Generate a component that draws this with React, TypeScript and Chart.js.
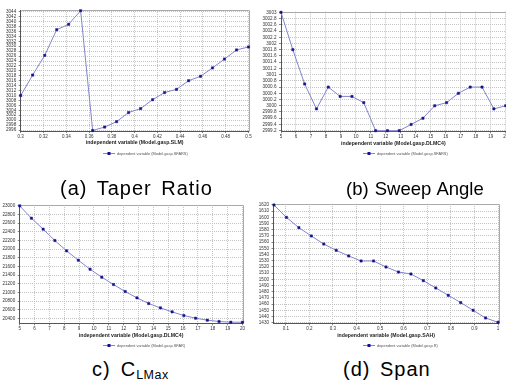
import React, { useEffect, useRef } from 'react';
import { Chart, registerables } from 'chart.js';
Chart.register(...registerables);

const FONT = '"Liberation Sans", Arial, sans-serif';

// (a) Taper ratio
const taperX = [0.3, 0.3105, 0.3211, 0.3316, 0.3421, 0.3526, 0.3632, 0.3737, 0.3842, 0.3947, 0.4053, 0.4158, 0.4263, 0.4368, 0.4474, 0.4579, 0.4684, 0.4789, 0.4895, 0.5];
const taperY = [3010, 3018.3, 3026.3, 3036.7, 3038.9, 3044.4, 2995.8, 2997.2, 2999.4, 3003.1, 3004.7, 3008.3, 3011.2, 3012.5, 3016, 3017.8, 3021.2, 3024.8, 3028.5, 3029.7];
const taperXTicks = [0.3, 0.32, 0.34, 0.36, 0.38, 0.4, 0.42, 0.44, 0.46, 0.48, 0.5];
const taperYTicks = [2996, 2998, 3000, 3002, 3004, 3006, 3008, 3010, 3012, 3014, 3016, 3018, 3020, 3022, 3024, 3026, 3028, 3030, 3032, 3034, 3036, 3038, 3040, 3042, 3044];

// (b) Sweep angle
const sweepX = [5, 5.789, 6.579, 7.368, 8.158, 8.947, 9.737, 10.526, 11.316, 12.105, 12.895, 13.684, 14.474, 15.263, 16.053, 16.842, 17.632, 18.421, 19.211, 20];
const sweepY = [3003, 3001.8, 3000.7, 2999.9, 3000.6, 3000.3, 3000.3, 3000.1, 2999.2, 2999.2, 2999.2, 2999.4, 2999.6, 3000.0, 3000.1, 3000.4, 3000.6, 3000.6, 2999.9, 3000.0];
const sweepXTicks = [5, 6, 7, 8, 9, 10, 11, 12, 13, 14, 15, 16, 17, 18, 19, 20];
const sweepYTicks = [2999.2, 2999.4, 2999.6, 2999.8, 3000, 3000.2, 3000.4, 3000.6, 3000.8, 3001, 3001.2, 3001.4, 3001.6, 3001.8, 3002, 3002.2, 3002.4, 3002.6, 3002.8, 3003];

// (c) CLMax
const clmaxX = [5, 5.789, 6.579, 7.368, 8.158, 8.947, 9.737, 10.526, 11.316, 12.105, 12.895, 13.684, 14.474, 15.263, 16.053, 16.842, 17.632, 18.421, 19.211, 20];
const clmaxY = [23000, 22715, 22462, 22200, 21962, 21746, 21538, 21354, 21185, 21023, 20877, 20746, 20646, 20554, 20469, 20408, 20362, 20331, 20315, 20315];
const clmaxXTicks = [5, 6, 7, 8, 9, 10, 11, 12, 13, 14, 15, 16, 17, 18, 19, 20];
const clmaxYTicks = [20400, 20600, 20800, 21000, 21200, 21400, 21600, 21800, 22000, 22200, 22400, 22600, 22800, 23000];

// (d) Span
const spanX = [0.05, 0.1028, 0.1556, 0.2083, 0.2611, 0.3139, 0.3667, 0.4194, 0.4722, 0.525, 0.5778, 0.6306, 0.6833, 0.7361, 0.7889, 0.8417, 0.8944, 0.9472, 1.0];
const spanY = [1620, 1600, 1583.4, 1570, 1557, 1546.8, 1537.7, 1529.6, 1529.6, 1519.9, 1511.8, 1508.6, 1497.9, 1486, 1474.2, 1462.4, 1450, 1437.6, 1430.6];
const spanXTicks = [0.1, 0.2, 0.3, 0.4, 0.5, 0.6, 0.7, 0.8, 0.9, 1];
const spanYTicks = [1430, 1440, 1450, 1460, 1470, 1480, 1490, 1500, 1510, 1520, 1530, 1540, 1550, 1560, 1570, 1580, 1590, 1600, 1610, 1620];

const LINE_COLOR = '#8585cc';
const POINT_COLOR = '#12128e';

const fmt = (v: number) => String(Number(Number(v).toFixed(2)));

const framePlugin = {
  id: 'frame',
  beforeDatasetsDraw(chart: any) {
    const { ctx, chartArea } = chart;
    ctx.save();
    ctx.strokeStyle = '#a9a9a9';
    ctx.lineWidth = 1;
    ctx.beginPath();
    ctx.moveTo(Math.round(chartArea.left) + 0.5, Math.round(chartArea.top) + 0.5);
    ctx.lineTo(Math.round(chartArea.right) + 0.5, Math.round(chartArea.top) + 0.5);
    ctx.lineTo(Math.round(chartArea.right) + 0.5, Math.round(chartArea.bottom) + 0.5);
    ctx.stroke();
    ctx.restore();
  },
};

const miniLegendPlugin = {
  id: 'miniLegend',
  afterDraw(chart: any, _args: any, opts: any) {
    const ds = chart.data.datasets[0];
    const { ctx } = chart;
    const x = opts.x;
    const y = opts.y;
    ctx.save();
    ctx.strokeStyle = ds.borderColor;
    ctx.lineWidth = 1;
    ctx.beginPath();
    ctx.moveTo(x, y + 0.5);
    ctx.lineTo(x + 12, y + 0.5);
    ctx.stroke();
    ctx.fillStyle = ds.pointBackgroundColor;
    ctx.fillRect(x + 4.5, y - 1, 3, 3);
    ctx.fillStyle = '#555';
    ctx.font = `3.9px ${FONT}`;
    ctx.textBaseline = 'middle';
    ctx.textAlign = 'left';
    ctx.fillText(ds.label, x + 14, y + 0.5);
    ctx.restore();
  },
};

type Spec = {
  left: number; top: number; w: number; h: number;
  pad: { left: number; top: number; right: number; bottom: number };
  yW: number;
  xs: number[]; ys: number[];
  xTicks: number[]; yTicks: number[];
  xMin: number; xMax: number; yMin: number; yMax: number;
  xTitle: string; label: string;
  legend: { x: number; y: number };
};

function Panel({ spec }: { spec: Spec }) {
  const ref = useRef<HTMLCanvasElement>(null);
  useEffect(() => {
    const c = ref.current;
    if (!c) return;
    const chart = new Chart(c, {
      type: 'line',
      data: {
        datasets: [
          {
            label: spec.label,
            data: spec.xs.map((x, i) => ({ x, y: spec.ys[i] })),
            borderColor: LINE_COLOR,
            borderWidth: 1,
            pointStyle: 'rect',
            pointRadius: 1.6,
            pointBackgroundColor: POINT_COLOR,
            pointBorderColor: POINT_COLOR,
            pointBorderWidth: 0.5,
            tension: 0,
            clip: false as any,
          },
        ],
      },
      options: {
        animation: false,
        responsive: false,
        devicePixelRatio: 1,
        layout: { padding: spec.pad, autoPadding: false } as any,
        plugins: {
          legend: { display: false },
          tooltip: { enabled: false },
          miniLegend: spec.legend,
        } as any,
        scales: {
          x: {
            type: 'linear',
            min: spec.xMin,
            max: spec.xMax,
            afterBuildTicks: (s: any) => { s.ticks = spec.xTicks.map((v) => ({ value: v })); },
            afterFit: (s: any) => { s.height = 15; },
            ticks: {
              font: { size: 4.5, family: FONT },
              color: '#333',
              padding: 1,
              maxRotation: 0,
              autoSkip: false,
              callback: (v: any) => fmt(v),
            },
            grid: { color: '#c4c4c4', tickLength: 2, tickColor: '#888' },
            border: { color: '#555', dash: [1, 1] },
            title: {
              display: true,
              text: spec.xTitle,
              font: { size: 5.2, weight: 'bold', family: FONT },
              color: '#222',
              padding: 0,
            },
          },
          y: {
            type: 'linear',
            min: spec.yMin,
            max: spec.yMax,
            afterBuildTicks: (s: any) => { s.ticks = spec.yTicks.map((v) => ({ value: v })); },
            afterFit: (s: any) => { s.width = spec.yW; },
            ticks: {
              font: { size: 4.6, family: FONT },
              color: '#333',
              padding: 2.5,
              autoSkip: false,
              callback: (v: any) => fmt(v),
            },
            grid: { color: '#c4c4c4', tickLength: 2, tickColor: '#888' },
            border: { color: '#555', dash: [1, 1] },
          },
        },
      } as any,
      plugins: [framePlugin, miniLegendPlugin],
    });
    return () => chart.destroy();
  }, [spec]);
  return (
    <canvas
      ref={ref}
      width={spec.w}
      height={spec.h}
      style={{ position: 'absolute', left: spec.left, top: spec.top, width: spec.w, height: spec.h }}
    />
  );
}

const specs: Spec[] = [
  {
    left: 0, top: 0, w: 253, h: 160,
    pad: { left: 0, top: 10, right: 4.5, bottom: 14 },
    yW: 20.7,
    xs: taperX, ys: taperY, xTicks: taperXTicks, yTicks: taperYTicks,
    xMin: 0.3, xMax: 0.5, yMin: 2995.6, yMax: 3044.7,
    xTitle: 'independent variable (Model.gasp.SLM)',
    label: 'dependent variable (Model.gasp.SFARS)',
    legend: { x: 103, y: 153 },
  },
  {
    left: 253, top: 0, w: 258, h: 160,
    pad: { left: 0, top: 11.7, right: 5.3, bottom: 13.7 },
    yW: 28,
    xs: sweepX, ys: sweepY, xTicks: sweepXTicks, yTicks: sweepYTicks,
    xMin: 5, xMax: 20, yMin: 2999.18, yMax: 3003.02,
    xTitle: 'independent variable (Model.gasp.DLMC4)',
    label: 'dependent variable (Model.gasp.SFARS)',
    legend: { x: 110, y: 153 },
  },
  {
    left: 0, top: 190, w: 253, h: 160,
    pad: { left: 0, top: 15, right: 10.5, bottom: 11.7 },
    yW: 19.7,
    xs: clmaxX, ys: clmaxY, xTicks: clmaxXTicks, yTicks: clmaxYTicks,
    xMin: 5, xMax: 20, yMin: 20290, yMax: 23020,
    xTitle: 'independent variable (Model.gasp.DLMC4)',
    label: 'dependent variable (Model.gasp.SFAR)',
    legend: { x: 103, y: 155 },
  },
  {
    left: 253, top: 190, w: 253, h: 160,
    pad: { left: 0, top: 14, right: 7.5, bottom: 11.7 },
    yW: 20.5,
    xs: spanX, ys: spanY, xTicks: spanXTicks, yTicks: spanYTicks,
    xMin: 0.048, xMax: 1.002, yMin: 1429, yMax: 1621.6,
    xTitle: 'independent variable (Model.gasp.SAH)',
    label: 'dependent variable (Model.gasp.R)',
    legend: { x: 110, y: 155 },
  },
];

const captionStyle: React.CSSProperties = {
  position: 'absolute',
  fontFamily: FONT,
  fontSize: 20,
  lineHeight: '20px',
  letterSpacing: 1,
  wordSpacing: 3,
  color: '#000',
  whiteSpace: 'nowrap',
};

export default function App() {
  return (
    <div style={{ position: 'absolute', left: 0, top: 0, width: 506, height: 381, overflow: 'hidden', background: '#fff' }}>
      {specs.map((s, i) => (
        <Panel key={i} spec={s} />
      ))}
      <div style={{ ...captionStyle, left: 60, top: 178 }}>(a) Taper Ratio</div>
      <div style={{ ...captionStyle, left: 346, top: 179, fontSize: 18.5, letterSpacing: 0, wordSpacing: 1 }}>(b) Sweep Angle</div>
      <div style={{ ...captionStyle, left: 92, top: 358.5 }}>
        c)<span style={{ marginLeft: 10 }}>C</span>
        <span style={{ fontSize: 12.5, letterSpacing: 0.5, position: 'relative', top: 3 }}>LMax</span>
      </div>
      <div style={{ ...captionStyle, left: 343, top: 358.5 }}>(d) Span</div>
    </div>
  );
}
